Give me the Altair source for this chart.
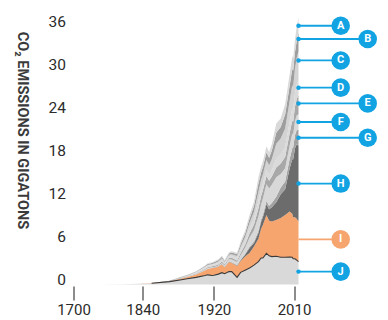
import altair as alt
import pandas as pd

years = [1750, 1800, 1830, 1850, 1870, 1882, 1890, 1900, 1910, 1913, 1918, 1920,
         1925, 1929, 1932, 1937, 1940, 1946, 1950, 1955, 1960, 1965, 1970, 1973,
         1975, 1979, 1982, 1985, 1990, 1995, 2000, 2005, 2008, 2009, 2011, 2013, 2015]

# stacked layers, bottom (J) to top (A), gigatons CO2
j_vals = [0.01, 0.03, 0.09, 0.18, 0.4, 0.63, 0.8, 1.0, 1.25, 1.35, 1.25, 1.3,
          1.45, 1.65, 1.5, 1.8, 1.8, 1.0, 1.7, 2.0, 2.3, 2.7, 3.2, 3.7,
          3.7, 4.35, 4.0, 3.9, 3.95, 3.8, 3.8, 3.85, 3.8, 3.6, 3.6, 3.4, 3.2]
i_vals = [0, 0, 0, 0.02, 0.06, 0.16, 0.25, 0.4, 0.7, 0.8, 1.05, 1.0,
          1.05, 1.15, 0.9, 1.35, 1.2, 1.6, 1.6, 1.9, 2.1, 2.6, 3.2, 4.1,
          4.6, 5.35, 4.9, 4.9, 5.05, 5.5, 5.9, 6.35, 6.1, 5.8, 5.8, 5.8, 5.6]
h_vals = [0, 0, 0, 0, 0, 0, 0, 0, 0.01, 0.01, 0.01, 0.02,
          0.02, 0.03, 0.03, 0.04, 0.05, 0.05, 0.1, 0.25, 0.7, 0.5, 0.8, 0.95,
          1.1, 1.5, 1.6, 2.0, 2.5, 3.3, 3.6, 6.0, 7.6, 8.1, 9.6, 10.4, 10.6]
g_vals = [0, 0, 0, 0, 0, 0.01, 0.01, 0.02, 0.03, 0.04, 0.04, 0.04,
          0.05, 0.06, 0.05, 0.06, 0.07, 0.08, 0.1, 0.13, 0.18, 0.22, 0.3, 0.32,
          0.36, 0.45, 0.5, 0.6, 0.75, 0.95, 1.1, 1.3, 1.55, 1.65, 1.85, 2.0, 2.2]
f_vals = [0, 0, 0, 0, 0.01, 0.02, 0.03, 0.05, 0.08, 0.1, 0.06, 0.05,
          0.08, 0.12, 0.15, 0.3, 0.38, 0.42, 0.6, 0.85, 1.25, 1.55, 2.0, 2.1,
          2.25, 2.35, 2.4, 2.55, 2.75, 1.9, 1.85, 1.9, 2.0, 1.85, 1.95, 2.05, 2.2]
e_vals = [0, 0, 0, 0.01, 0.01, 0.04, 0.05, 0.07, 0.11, 0.12, 0.14, 0.16,
          0.16, 0.19, 0.15, 0.2, 0.24, 0.2, 0.3, 0.42, 0.6, 0.8, 1.15, 1.2,
          1.15, 1.15, 1.1, 1.15, 1.35, 1.45, 1.55, 1.7, 1.85, 1.75, 2.0, 2.3, 2.6]
d_vals = [0, 0, 0.01, 0.01, 0.01, 0.06, 0.08, 0.12, 0.18, 0.2, 0.2, 0.23,
          0.24, 0.26, 0.2, 0.24, 0.28, 0.35, 0.45, 0.55, 0.7, 0.85, 1.05, 1.0,
          0.95, 0.9, 0.82, 0.85, 1.2, 1.25, 1.4, 1.6, 1.75, 1.7, 1.85, 2.0, 2.2]
c_vals = [0, 0, 0, 0, 0.01, 0.04, 0.05, 0.07, 0.11, 0.12, 0.13, 0.15,
          0.17, 0.2, 0.16, 0.18, 0.22, 0.27, 0.42, 0.55, 0.75, 0.95, 1.3, 1.25,
          1.25, 1.35, 1.35, 1.55, 2.1, 2.25, 2.6, 2.9, 3.2, 3.2, 3.45, 3.7, 4.0]
b_vals = [0, 0, 0, 0, 0.01, 0.04, 0.05, 0.07, 0.11, 0.12, 0.13, 0.15,
          0.17, 0.21, 0.16, 0.17, 0.22, 0.26, 0.4, 0.47, 0.62, 0.78, 1.1, 1.03,
          1.02, 1.05, 1.03, 1.2, 1.55, 1.6, 1.95, 2.1, 2.3, 2.2, 2.3, 2.4, 2.6]
a_vals = [0, 0, 0, 0, 0, 0.02, 0.03, 0.05, 0.08, 0.1, 0.1, 0.12,
          0.13, 0.16, 0.13, 0.15, 0.19, 0.22, 0.33, 0.38, 0.5, 0.65, 0.9, 0.85,
          0.82, 0.85, 0.8, 0.9, 1.3, 1.2, 1.45, 1.6, 1.75, 1.75, 1.8, 1.95, 2.1]

stack_labels = ["J", "I", "H", "G", "F", "E", "D", "C", "B", "A"]
stack_values = [j_vals, i_vals, h_vals, g_vals, f_vals, e_vals, d_vals, c_vals, b_vals, a_vals]
stack_colors = ["#d9d9d9", "#f6a56f", "#6c6c6c", "#a2a2a2", "#d8d8d8",
                "#a8a8a8", "#dadada", "#d3d3d3", "#9e9e9e", "#d9d9d9"]

# annotation anchors (gigatons) at the last year
left_labels = ["A", "C", "D", "F", "H", "J"]
left_gt = [36.15, 31.3, 27.5, 22.7, 14.1, 1.8]
right_labels = ["B", "E", "G"]
right_gt = [34.3, 25.3, 20.5]
orange_labels = ["I"]
orange_gt = [6.3]

x_ticks = [1700, 1840, 1920, 2010]
y_ticks = [0, 6, 12, 18, 24, 30, 36]
y_title = "CO\u2082 EMISSIONS IN GIGATONS"

BLUE = "#12a3e3"
ORANGE = "#f6a56f"

rows = []
for k, (lab, vals) in enumerate(zip(stack_labels, stack_values)):
    for yr, v in zip(years, vals):
        rows.append({"year": yr, "value": v, "label": lab, "k": k})
df = pd.DataFrame(rows)
df_j = pd.DataFrame({"year": years, "value": j_vals})
df_j = df_j[df_j["year"] >= 1850]

last_year = years[-1]
xscale = alt.Scale(domain=[1700, 1840, last_year], range=[0, 69.2, 225.0], nice=False, zero=False)
yscale = alt.Scale(domain=[0, 38], nice=False, zero=True)

x_axis = alt.Axis(values=x_ticks, format="d", title=None, grid=False, domain=False,
                  tickSize=14, tickWidth=2, tickColor="#8c8c8c", offset=1.5,
                  labelPadding=2, labelFontSize=15, labelColor="#2b2b2b",
                  labelFont="Roboto", labelFlush=False)
y_axis = alt.Axis(values=y_ticks, title=None, grid=False, domain=False, ticks=False,
                  labelPadding=8, labelFontSize=15.5, labelColor="#2b2b2b",
                  labelFont="Roboto", labelOffset=-5)

area = alt.Chart(df).mark_area(interpolate="linear").encode(
    x=alt.X("year:Q", scale=xscale, axis=x_axis),
    y=alt.Y("value:Q", stack="zero", scale=yscale, axis=y_axis),
    color=alt.Color("label:N", scale=alt.Scale(domain=stack_labels, range=stack_colors), legend=None),
    order=alt.Order("k:Q", sort="ascending"),
)

jline = alt.Chart(df_j).mark_line(color="#3a3a3a", strokeWidth=1.1).encode(
    x="year:Q", y="value:Q"
)


def group(labels, gts, px, color, dot):
    d = pd.DataFrame({"label": labels, "gt": gts, "year": [last_year] * len(labels)})
    base = alt.Chart(d)
    layers = [
        base.mark_rule(color=color, strokeWidth=1.8).encode(
            x="year:Q", x2=alt.value(px), y="gt:Q"),
    ]
    if dot:
        layers.append(base.mark_circle(color=color, size=20, opacity=1).encode(
            x="year:Q", y="gt:Q"))
    layers.append(base.mark_circle(color=color, size=345, opacity=1).encode(
        x=alt.value(px), y="gt:Q"))
    layers.append(base.mark_text(color="white", fontWeight="bold", fontSize=11,
                                 font="Roboto", baseline="middle", align="center").encode(
        x=alt.value(px), y="gt:Q", text="label:N"))
    return layers


ann = (group(left_labels, left_gt, 267.2, BLUE, True)
       + group(right_labels, right_gt, 294.2, BLUE, True)
       + group(orange_labels, orange_gt, 267.2, ORANGE, False))

title = alt.Chart(pd.DataFrame({"t": [y_title]})).mark_text(
    angle=90, fontSize=14.5, fontWeight="bold", font="Roboto", color="#3a3a3a",
    align="center", baseline="middle"
).encode(x=alt.value(-51.5), y=alt.value(118), text="t:N")

chart = alt.layer(area, jline, *ann, title).properties(
    width=306, height=272,
    autosize="none",
    padding={"left": 65.5, "top": 4.5, "right": 0, "bottom": 34},
).configure_view(stroke=None)

chart.save("out.html", embed_options={"renderer": "svg", "actions": False})
